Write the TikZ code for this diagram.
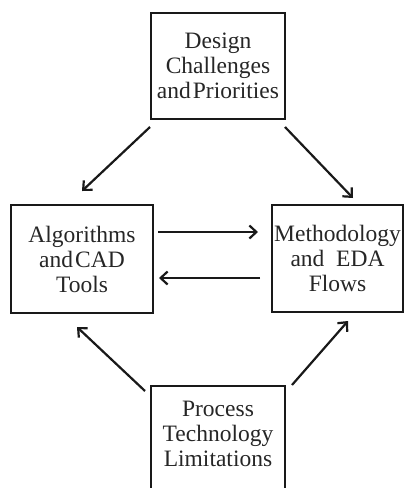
\documentclass[tikz,border=0pt]{standalone}
\usepackage{fontspec}
\setmainfont{Liberation Serif}
\usetikzlibrary{arrows.meta}
\begin{document}
\begin{tikzpicture}[x=1pt,y=-1pt,
  box/.style={draw=black!90,line width=2.4pt,align=center,inner sep=0pt,
    font=\fontsize{23.5}{25}\selectfont,text=black!85},
  conn/.style={line width=2.2pt,draw=black!90,-{Straight Barb[length=7pt,width=13pt,line width=2.2pt]}}]
\useasboundingbox (0,0) rectangle (407,488);
\clip (0,0) rectangle (407,488);
\node[box,minimum width=134pt,minimum height=106pt] (top) at (218,66) {Design\\Challenges\\and\hspace{2pt}Priorities};
\node[box,minimum width=142pt,minimum height=108pt] (left) at (82,259) {Algorithms\\and\hspace{2pt}CAD\\Tools};
\node[box,minimum width=131pt,minimum height=107pt] (right) at (337.5,258.5) {Methodology\\and\ \ EDA\\Flows};
\node[box,minimum width=134pt,minimum height=116pt,anchor=north] (bot) at (218,385) {};
\node[font=\fontsize{23.5}{25}\selectfont,text=black!85,align=center,anchor=north] (bottext) at (218,398) {Process\\Technology\\Limitations};
\coordinate (a1s) at (150,127); \coordinate (a1e) at (82,191);
\coordinate (a2s) at (285,127); \coordinate (a2e) at (353,198);
\coordinate (a3s) at (158,232); \coordinate (a3e) at (258,232);
\coordinate (a4s) at (260,278); \coordinate (a4e) at (159,278);
\coordinate (a5s) at (145,391); \coordinate (a5e) at (77,327);
\coordinate (a6s) at (292,385); \coordinate (a6e) at (348,321);
\draw[conn] (a1s) -- (a1e);
\draw[conn] (a2s) -- (a2e);
\draw[conn] (a3s) -- (a3e);
\draw[conn] (a4s) -- (a4e);
\draw[conn] (a5s) -- (a5e);
\draw[conn] (a6s) -- (a6e);
\end{tikzpicture}
\end{document}
